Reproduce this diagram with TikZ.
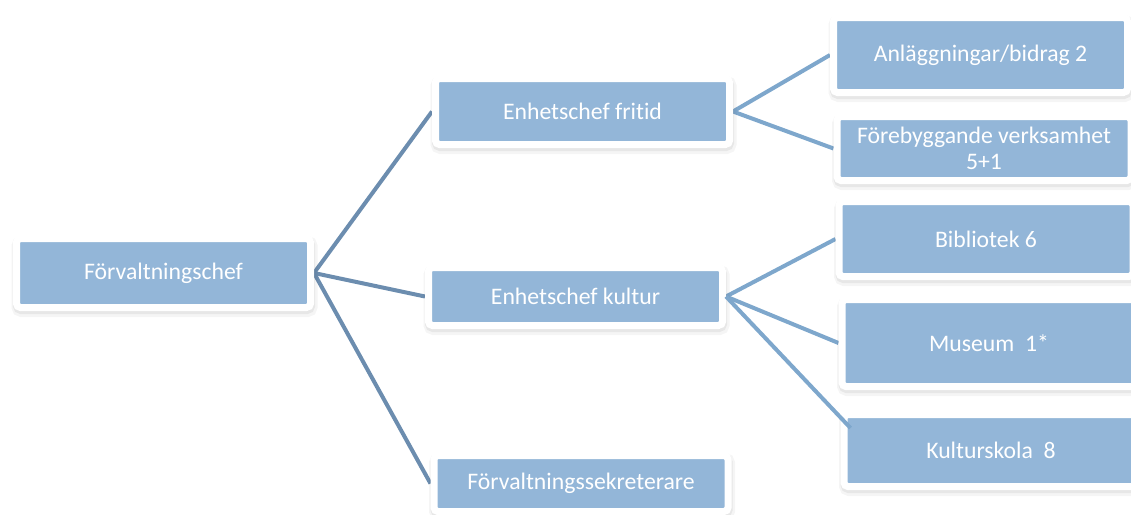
\documentclass[tikz,border=0pt]{standalone}
\usepackage{fontspec}
\setmainfont{Carlito}[Ligatures=NoCommon]
\usetikzlibrary{positioning,backgrounds}

\definecolor{boxblue}{RGB}{147,182,216}
\definecolor{stemline}{RGB}{108,141,175}
\definecolor{leafline}{RGB}{126,167,204}
\newcommand{\pix}{0.02cm}

\begin{document}
\begin{tikzpicture}[
x=0.02cm, y=-0.02cm,
orgbox/.style={fill=boxblue, draw=white, line width=7*\pix, rounded corners=4*\pix,
  text=white, align=center, font=\fontsize{13.5}{15}\selectfont,
  minimum width=294*\pix,
  preaction={draw=black, fill=black, opacity=0.04, line width=12*\pix,
    transform canvas={shift={(0.02cm,-0.07cm)}}},
  preaction={draw=black, fill=black, opacity=0.06, line width=8*\pix,
    transform canvas={shift={(0.01cm,-0.05cm)}}}},
stem/.style={draw=stemline, line width=4*\pix},
leaf/.style={draw=leafline, line width=4*\pix}
]

\useasboundingbox (0,0) rectangle (1131,514);
\clip (0,0) rectangle (1131,514);

%-------------------------
% Rutor
%-------------------------

\node[orgbox, minimum height=69*\pix] (chef) at (163.5,273) {Förvaltningschef};

\node[orgbox, minimum height=66*\pix] (fritid) at (582.5,111.5) {Enhetschef fritid};
\node[orgbox, minimum height=58*\pix] (kultur) at (575.5,296.5) {Enhetschef kultur};
\node[orgbox, minimum height=56*\pix] (sekr)   at (581,483.5) {Förvaltningssekreterare};

\node[orgbox, minimum height=75*\pix] (anlagg)  at (980.5,55)  {Anläggningar/bidrag 2};
\node[orgbox, minimum height=64*\pix, inner sep=1pt] (foreb) at (984,148.5) {Förebyggande verksamhet\\5+1};

\node[orgbox, minimum height=75*\pix] (bibl)     at (986,239)   {Bibliotek 6};
\node[orgbox, minimum height=87*\pix] (museum)   at (989,343)   {Museum\ \ 1*};
\node[orgbox, minimum height=72*\pix] (kulturskola) at (991,450.5) {Kulturskola\ \ 8};

%-------------------------
% Linjer
%-------------------------

\begin{scope}[on background layer]
\draw[stem] (chef.east) -- (fritid.west);
\draw[stem] (chef.east) -- (kultur.west);
\draw[stem] (chef.east) -- (sekr.west);

\draw[leaf] (fritid.east) -- (anlagg.west);
\draw[leaf] (fritid.east) -- (foreb.west);

\draw[leaf] (kultur.east) -- (bibl.west);
\draw[leaf] (kultur.east) -- (museum.west);
\end{scope}
\draw[leaf] (kultur.east) -- ([shift={(10,17)}]kulturskola.north west);

\end{tikzpicture}
\end{document}
